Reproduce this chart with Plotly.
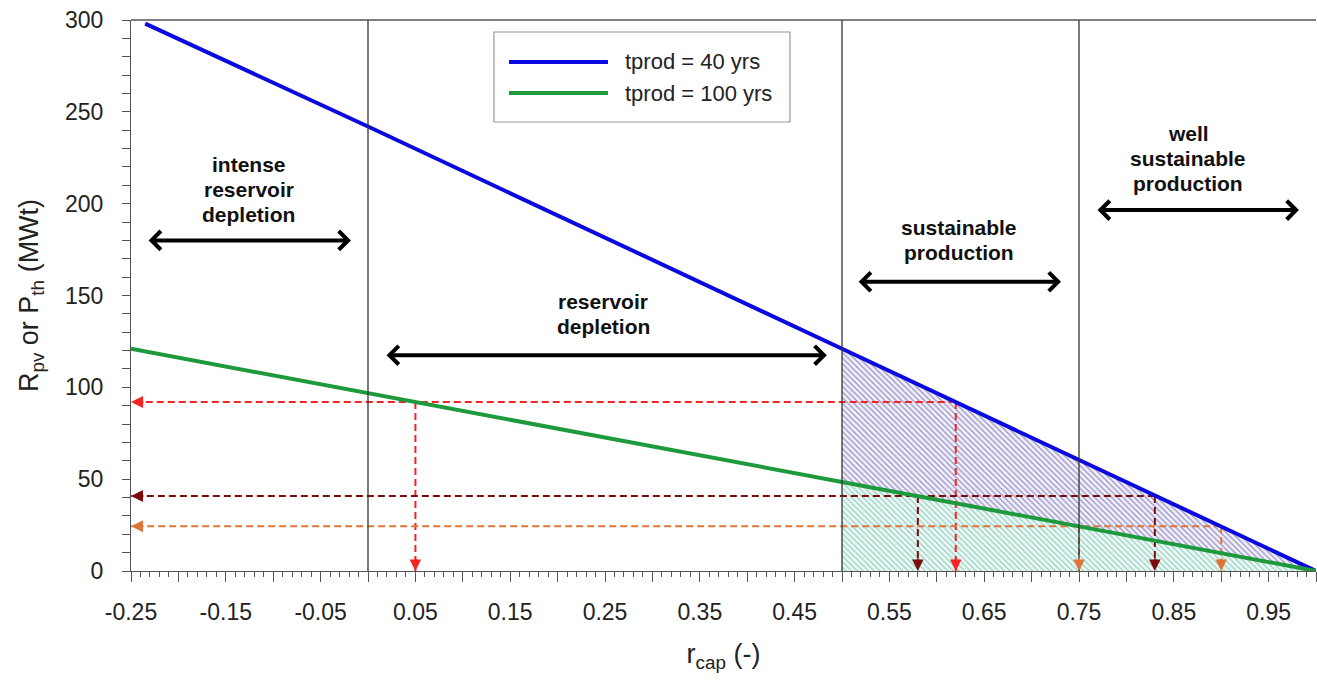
import plotly.graph_objects as go

# --- series: thermal power versus capacity ratio r_cap ---
series_names = ["tprod = 40 yrs", "tprod = 100 yrs"]
series_colors = ["#0a0ae0", "#1e9a3c"]

r_40 = [-0.235, 0.0, 0.5, 0.75, 1.0]
p_40 = [298.0, 242.0, 121.0, 60.5, 0.0]

r_100 = [-0.25, 0.0, 0.5, 0.75, 1.0]
p_100 = [121.0, 97.0, 48.5, 24.3, 0.0]

# --- region boundaries and region labels (one entry per text line) ---
region_bounds = [0.0, 0.5, 0.75]
region_labels = [
    ["intense", "reservoir", "depletion"],
    ["reservoir", "depletion"],
    ["sustainable", "production"],
    ["well", "sustainable", "production"],
]
label_x = [-0.126, 0.248, 0.623, 0.865]
label_y = [207.5, 140.0, 180.0, 224.5]
arrow_start = [-0.233, 0.018, 0.516, 0.768]
arrow_end = [-0.018, 0.484, 0.731, 0.982]
arrow_y = [180.0, 117.5, 157.5, 196.5]

# --- read-off guides: power level, crossing on 100 yrs curve, crossing on 40 yrs curve ---
guide_levels = [92.0, 40.8, 24.3]
guide_r_100 = [0.05, 0.58, 0.75]
guide_r_40 = [0.62, 0.83, 0.90]
guide_colors = ["#f52424", "#7a0c0c", "#dc7638"]

# --- axis ticks ---
x_tickvals = [round(-0.25 + 0.05 * i, 2) for i in range(26)]
x_ticktext = [f"{v:.2f}" if i % 2 == 0 else "" for i, v in enumerate(x_tickvals)]
y_tickvals = [0, 50, 100, 150, 200, 250, 300]

FONT = "Liberation Sans, Arial, sans-serif"
AXIS_COL = "#555555"
TEXT_COL = "#222222"
LABEL_LINE_PX = 25

fig = go.Figure()

# hatched area below the 100 yrs curve (r_cap >= 0.5)
sel_100 = [i for i, r in enumerate(r_100) if r >= region_bounds[1]]
fig.add_trace(go.Scatter(
    x=[r_100[i] for i in sel_100], y=[p_100[i] for i in sel_100],
    mode="lines", line=dict(width=0), fill="tozeroy",
    fillcolor="#eef8f5",
    fillpattern=dict(shape="\\", fgcolor="#96d2c6", bgcolor="#eff9f6",
                     size=4, solidity=0.33, fillmode="replace"),
    showlegend=False, hoverinfo="skip",
))
# hatched area between both curves (r_cap >= 0.5)
sel_40 = [i for i, r in enumerate(r_40) if r >= region_bounds[1]]
fig.add_trace(go.Scatter(
    x=[r_40[i] for i in sel_40], y=[p_40[i] for i in sel_40],
    mode="lines", line=dict(width=0), fill="tonexty",
    fillcolor="#f1effa",
    fillpattern=dict(shape="\\", fgcolor="#9894c6", bgcolor="#f3f1fa",
                     size=4, solidity=0.33, fillmode="replace"),
    showlegend=False, hoverinfo="skip",
))

# dashed guide lines
for lvl, rg, rb, col in zip(guide_levels, guide_r_100, guide_r_40, guide_colors):
    dash = dict(color=col, width=2, dash="7px,4px")
    fig.add_trace(go.Scatter(x=[rb, x_tickvals[0]], y=[lvl, lvl], mode="lines",
                             line=dash, showlegend=False, hoverinfo="skip"))
    for r in (rg, rb):
        fig.add_trace(go.Scatter(x=[r, r], y=[lvl, 0], mode="lines",
                                 line=dash, showlegend=False, hoverinfo="skip"))

# main curves
fig.add_trace(go.Scatter(x=r_40, y=p_40, mode="lines", name=series_names[0],
                         line=dict(color=series_colors[0], width=4), showlegend=False))
fig.add_trace(go.Scatter(x=r_100, y=p_100, mode="lines", name=series_names[1],
                         line=dict(color=series_colors[1], width=4), showlegend=False))

shapes = []
annotations = []

# region boundary lines
for b in region_bounds:
    shapes.append(dict(type="line", xref="x", yref="paper", x0=b, x1=b, y0=0, y1=1,
                       line=dict(color="#333333", width=1.3)))
# top frame line
shapes.append(dict(type="line", xref="paper", yref="paper", x0=0, x1=1, y0=1, y1=1,
                   line=dict(color=AXIS_COL, width=1.3)))

# filled arrowheads where the guide lines meet the axes
for lvl, rg, rb, col in zip(guide_levels, guide_r_100, guide_r_40, guide_colors):
    annotations.append(dict(x=x_tickvals[0], y=lvl, xref="x", yref="y", ax=14, ay=0,
                            text="", showarrow=True, arrowhead=2, arrowsize=1.2,
                            arrowwidth=2, arrowcolor=col))
    for r in (rg, rb):
        annotations.append(dict(x=r, y=0, xref="x", yref="y", ax=0, ay=-14,
                                text="", showarrow=True, arrowhead=2, arrowsize=1.15,
                                arrowwidth=2, arrowcolor=col))

# region labels (centred block of lines) with double-headed arrows
for lines, lx, ly, a0, a1, ay in zip(region_labels, label_x, label_y,
                                     arrow_start, arrow_end, arrow_y):
    mid = (len(lines) - 1) / 2
    for i, line_txt in enumerate(lines):
        annotations.append(dict(x=lx, y=ly, xref="x", yref="y",
                                yshift=(mid - i) * LABEL_LINE_PX,
                                text=f"<b>{line_txt}</b>", showarrow=False,
                                font=dict(family=FONT, size=21, color="#111111")))
    annotations.append(dict(x=a1, y=ay, ax=a0, ay=ay, xref="x", yref="y",
                            axref="x", ayref="y", text="", showarrow=True,
                            arrowside="end+start", arrowhead=4, startarrowhead=4,
                            arrowsize=0.9, startarrowsize=0.9, arrowwidth=4,
                            arrowcolor="#000000"))

# legend box drawn in paper space
leg_x0, leg_x1, leg_y0, leg_y1 = 0.3063, 0.5561, 0.8149, 0.9782
shapes.append(dict(type="rect", xref="paper", yref="paper", x0=leg_x0, x1=leg_x1,
                   y0=leg_y0, y1=leg_y1, line=dict(color="#999999", width=1.2),
                   fillcolor="white", layer="above"))
leg_rows = [0.9238, 0.8675]
for name, col, ry in zip(series_names, series_colors, leg_rows):
    shapes.append(dict(type="line", xref="paper", yref="paper", x0=0.3190, x1=0.4025,
                       y0=ry, y1=ry, line=dict(color=col, width=4), layer="above"))
    annotations.append(dict(x=0.4152, y=ry, xref="paper", yref="paper", text=name,
                            showarrow=False, xanchor="left", yanchor="middle",
                            font=dict(family=FONT, size=22, color=TEXT_COL)))

fig.update_layout(
    width=1317, height=682,
    margin=dict(l=131, r=1, t=20, b=111),
    paper_bgcolor="white", plot_bgcolor="white",
    font=dict(family=FONT, color=TEXT_COL),
    shapes=shapes, annotations=annotations,
    showlegend=False,
    xaxis=dict(
        range=[-0.25, 1.0], showgrid=False, zeroline=False,
        showline=True, linecolor=AXIS_COL, linewidth=1.3,
        tickmode="array", tickvals=x_tickvals, ticktext=x_ticktext,
        ticks="outside", ticklen=10, tickwidth=1.2, tickcolor=AXIS_COL,
        ticklabelstandoff=10,
        tickfont=dict(family=FONT, size=23, color=TEXT_COL),
        minor=dict(tickmode="linear", tick0=0, dtick=0.01, ticks="outside",
                   ticklen=5, tickwidth=1, tickcolor=AXIS_COL, showgrid=False),
        title=dict(text="r<sub>cap</sub> (-)", standoff=20,
                   font=dict(family=FONT, size=27, color=TEXT_COL)),
    ),
    yaxis=dict(
        range=[0, 300], showgrid=False, zeroline=False,
        showline=True, linecolor=AXIS_COL, linewidth=1.3,
        tickmode="array", tickvals=y_tickvals,
        ticks="outside", ticklen=8, tickwidth=1.2, tickcolor=AXIS_COL,
        ticklabelstandoff=14,
        tickfont=dict(family=FONT, size=23, color=TEXT_COL),
        minor=dict(tickmode="linear", tick0=0, dtick=10, ticks="outside",
                   ticklen=8, tickwidth=1, tickcolor=AXIS_COL, showgrid=False),
        title=dict(text="R<sub>pv</sub> or P<sub>th</sub> (MWt)", standoff=18,
                   font=dict(family=FONT, size=27, color=TEXT_COL)),
    ),
)

fig.write_html("out.html")
